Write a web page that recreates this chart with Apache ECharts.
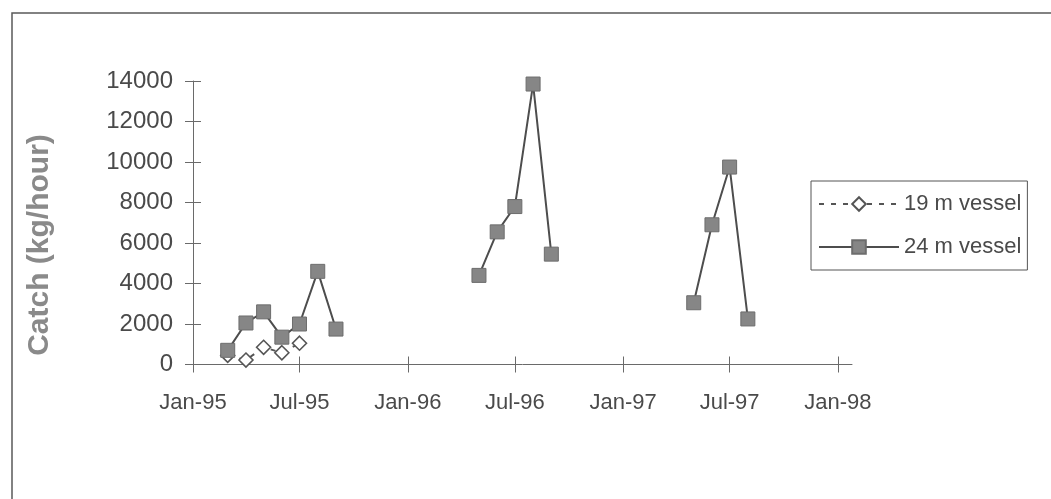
<!DOCTYPE html>
<html>
<head>
<meta charset="utf-8">
<script src="https://cdn.jsdelivr.net/npm/echarts@6/dist/echarts.min.js"></script>
<style>
html,body{margin:0;padding:0;background:#fff;}
#chart{width:1051px;height:499px;}
</style>
</head>
<body>
<div id="chart"></div>
<script>
// ---- data ----
const xTickDates = ['1995-01-01','1995-07-01','1996-01-01','1996-07-01','1997-01-01','1997-07-01','1998-01-01'];
const xTickLabels = ['Jan-95','Jul-95','Jan-96','Jul-96','Jan-97','Jul-97','Jan-98'];
const yTicks = [0, 2000, 4000, 6000, 8000, 10000, 12000, 14000];

const dates19 = ['1995-03-01','1995-04-01','1995-05-01','1995-06-01','1995-07-01'];
const catch19 = [450, 220, 850, 580, 1050];

const dates24 = ['1995-03-01','1995-04-01','1995-05-01','1995-06-01','1995-07-01','1995-08-01','1995-09-01',
                 '1996-01-01',
                 '1996-05-01','1996-06-01','1996-07-01','1996-08-01','1996-09-01',
                 '1997-01-01',
                 '1997-05-01','1997-06-01','1997-07-01','1997-08-01'];
const catch24 = [700, 2050, 2600, 1350, 2000, 4600, 1750,
                 null,
                 4400, 6550, 7800, 13850, 5450,
                 null,
                 3050, 6900, 9750, 2250];

const seriesNames = ['19 m vessel', '24 m vessel'];
const yTitle = 'Catch (kg/hour)';

// ---- build ----
const ts = s => Date.parse(s + 'T00:00:00Z');
const xTickTs = xTickDates.map(ts);
const pairs = (d, v) => d.map((s, i) => [ts(s), v[i] == null ? '-' : v[i]]);
const xMin = ts('1995-01-01');
const xMax = ts('1998-01-25');

const labelColor = '#4a4a4a';
const axisColor = '#6a6a6a';
const fontFam = '"Liberation Sans", Arial, sans-serif';

const xLabelFmt = v => {
  const i = xTickTs.indexOf(v);
  return i >= 0 ? xTickLabels[i] : '';
};

const chart = echarts.init(document.getElementById('chart'), null, {renderer: 'canvas'});
chart.setOption({
  animation: false,
  backgroundColor: '#ffffff',
  grid: {left: 193, top: 81, width: 659, height: 283.5, containLabel: false, outerBoundsMode: 'none'},
  legend: {
    orient: 'vertical',
    left: 811, top: 181,
    padding: [12, 6, 12, 7],
    itemWidth: 80, itemHeight: 17, itemGap: 21,
    borderColor: '#555', borderWidth: 1,
    textStyle: {fontFamily: fontFam, fontSize: 22, color: labelColor},
    data: seriesNames
  },
  xAxis: [{
    type: 'value', position: 'bottom', min: xMin, max: xMax,
    axisLine: {show: true, onZero: false, lineStyle: {color: axisColor, width: 1}},
    axisTick: {show: true, inside: false, length: 8, customValues: xTickTs, lineStyle: {color: axisColor}},
    axisLabel: {show: true, customValues: xTickTs, formatter: xLabelFmt, margin: 27,
      fontFamily: fontFam, fontSize: 22, color: labelColor},
    splitLine: {show: false}
  }, {
    type: 'value', position: 'bottom', min: xMin, max: xMax,
    axisLine: {show: false, onZero: false},
    axisTick: {show: true, inside: true, length: 8, customValues: xTickTs, lineStyle: {color: axisColor}},
    axisLabel: {show: false},
    splitLine: {show: false}
  }],
  yAxis: [{
    type: 'value', position: 'left', min: 0, max: 14000, interval: 2000,
    axisLine: {show: true, onZero: false, lineStyle: {color: axisColor, width: 1}},
    axisTick: {show: true, inside: false, length: 8, lineStyle: {color: axisColor}},
    axisLabel: {show: true, margin: 20, fontFamily: fontFam, fontSize: 24, color: labelColor,
      formatter: v => String(v)},
    splitLine: {show: false}
  }, {
    type: 'value', position: 'left', min: 0, max: 14000, interval: 2000,
    axisLine: {show: false, onZero: false},
    axisTick: {show: true, inside: true, length: 8, lineStyle: {color: axisColor}},
    axisLabel: {show: false},
    splitLine: {show: false}
  }],
  graphic: [
    {type: 'rect', silent: true, shape: {x: 12, y: 13, width: 1100, height: 600},
     style: {fill: 'none', stroke: '#5a5a5a', lineWidth: 1.5}},
    {type: 'text', silent: true, x: 40, y: 245, rotation: Math.PI / 2,
     style: {text: yTitle, fontFamily: fontFam, fontWeight: 'bold', fontSize: 30, fill: '#8a8a8a',
       align: 'center', verticalAlign: 'middle'}}
  ],
  series: [{
    name: seriesNames[0], type: 'line', xAxisIndex: 0, yAxisIndex: 0,
    data: pairs(dates19, catch19),
    symbol: 'diamond', symbolSize: 14,
    itemStyle: {color: '#ffffff', borderColor: '#555', borderWidth: 1.6},
    lineStyle: {color: '#555', width: 2, type: [5, 7]},
    connectNulls: false, z: 2
  }, {
    name: seriesNames[1], type: 'line', xAxisIndex: 0, yAxisIndex: 0,
    data: pairs(dates24, catch24),
    symbol: 'rect', symbolSize: 14,
    itemStyle: {color: '#868686', borderColor: '#6d6d6d', borderWidth: 1},
    lineStyle: {color: '#4d4d4d', width: 2},
    connectNulls: false, z: 3
  }]
});
</script>
</body>
</html>
